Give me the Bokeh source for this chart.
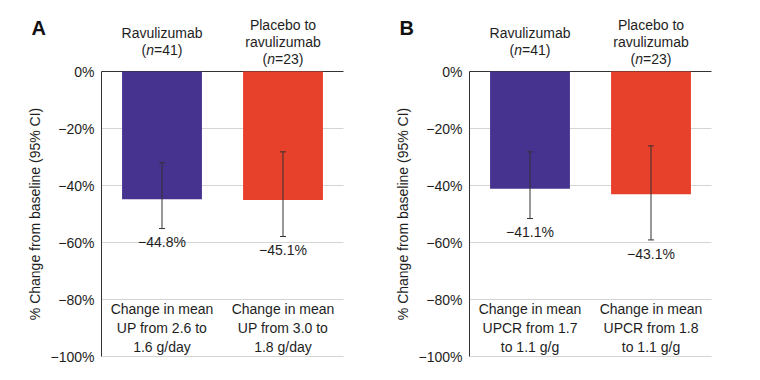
from bokeh.plotting import figure
from bokeh.models import (ColumnDataSource, Range1d, FixedTicker, Whisker, TeeHead,
                          LinearAxis, Grid)
from bokeh.layouts import row
from bokeh.embed import file_html
from bokeh.resources import INLINE
from bokeh.core.properties import value

# ---------------- data ----------------
groups = ["Ravulizumab", "Placebo to ravulizumab"]
group_title_lines = [["Ravulizumab"], ["Placebo to", "ravulizumab"]]
group_n = [41, 23]
bar_colors = ["#46338F", "#E8412B"]

# Panel A: urine protein (UP)
up_change = [-44.8, -45.1]
up_ci_low = [-55.1, -57.9]
up_ci_high = [-32.0, -28.2]
up_labels = ["Change in mean\nUP from 2.6 to\n1.6 g/day",
             "Change in mean\nUP from 3.0 to\n1.8 g/day"]

# Panel B: urine protein-creatinine ratio (UPCR)
upcr_change = [-41.1, -43.1]
upcr_ci_low = [-51.6, -59.1]
upcr_ci_high = [-28.2, -26.1]
upcr_labels = ["Change in mean\nUPCR from 1.7\nto 1.1 g/g",
               "Change in mean\nUPCR from 1.8\nto 1.1 g/g"]

y_ticks = [0, -20, -40, -60, -80, -100]
y_tick_labels = ["0%", "\u221220%", "\u221240%", "\u221260%", "\u221280%", "\u2212100%"]
y_axis_title = "% Change from baseline (95% CI)"

# ---------------- style / layout ----------------
FONT = "Liberation Sans"
TXT = "#1e1e1e"
FS = "14px"
PX_X = 121.0    # px per x unit (frame 242 px for 2 groups)
PX_Y = 2.85     # px per y unit (285 px for 100 %)
TOP_PX = 71     # px from canvas top to 0 %
BOT_PX = 14     # px below -100 %
HEIGHT = 370


def make_panel(letter, change, lo, hi, cat_labels, width, left_px):
    x0 = -left_px / PX_X
    x1 = (width - left_px) / PX_X
    y1 = TOP_PX / PX_Y
    y0 = -100 - BOT_PX / PX_Y
    p = figure(width=width, height=HEIGHT, output_backend="svg", toolbar_location=None,
               x_range=Range1d(x0, x1), y_range=Range1d(y0, y1),
               x_axis_location=None, y_axis_location=None,
               min_border=0, background_fill_color="white",
               border_fill_color="white")
    p.outline_line_color = None
    p.grid.visible = False

    n_groups = len(change)

    # grid lines
    g = Grid(dimension=1, ticker=FixedTicker(ticks=y_ticks[1:]),
             grid_line_color="#d4d4d4", grid_line_width=1)
    g.cross_bounds = (0, n_groups)
    p.add_layout(g)
    g0 = Grid(dimension=1, ticker=FixedTicker(ticks=[0]),
              grid_line_color="#333333", grid_line_width=1)
    g0.cross_bounds = (0, n_groups)
    p.add_layout(g0)

    ax = LinearAxis(fixed_location=0, bounds=(-100, 0))
    ax.ticker = FixedTicker(ticks=y_ticks)
    ax.major_label_overrides = {t: l for t, l in zip(y_ticks, y_tick_labels)}
    ax.major_tick_in = 0
    ax.major_tick_out = 0
    ax.minor_tick_in = 0
    ax.minor_tick_out = 0
    ax.axis_line_color = "#333333"
    ax.major_label_text_font = FONT
    ax.major_label_text_font_size = FS
    ax.major_label_text_color = TXT
    ax.major_label_standoff = 7
    ax.axis_label = y_axis_title
    ax.axis_label_text_font = FONT
    ax.axis_label_text_font_size = FS
    ax.axis_label_text_font_style = "normal"
    ax.axis_label_text_color = TXT
    ax.axis_label_standoff = 5
    p.add_layout(ax, "left")

    xs = [i + 0.5 for i in range(n_groups)]
    src = ColumnDataSource(dict(
        x=xs, top=[0] * n_groups, bottom=change, color=bar_colors,
        lo=lo, hi=hi,
        lab=["\u2212%.1f%%" % abs(v) for v in change],
        laby=[l - 4.8 for l in lo],
        cat=cat_labels, caty=[-90] * n_groups,
    ))
    p.vbar(x="x", top="top", bottom="bottom", width=0.66, fill_color="color",
           line_color=None, source=src)

    w = Whisker(base="x", lower="lo", upper="hi", source=src,
                line_color="#333333", line_width=1,
                upper_head=TeeHead(size=6, line_color="#333333", line_width=1),
                lower_head=TeeHead(size=6, line_color="#333333", line_width=1))
    w.level = "overlay"
    p.add_layout(w)

    p.text(x="x", y="laby", text="lab", source=src, text_font=value(FONT),
           text_font_size=FS, text_color=TXT, text_align="center",
           text_baseline="middle")
    p.text(x="x", y="caty", text="cat", source=src, text_font=value(FONT),
           text_font_size=FS, text_color=TXT, text_align="center",
           text_baseline="middle", text_line_height=1.2)

    # group titles above the bars
    line_gap = 17 / PX_Y
    ymid = 30 / PX_Y
    tx, ty, tt = [], [], []
    nx, ny, nxo, nt, ns = [], [], [], [], []
    w_open, w_n, w_rest = 4.66, 7.78, 28.41
    start = -(w_open + w_n + w_rest) / 2
    for i, (lines, n) in enumerate(zip(group_title_lines, group_n)):
        k = len(lines) + 1
        for j, txt in enumerate(lines):
            tx.append(xs[i]); ty.append(ymid + ((k - 1) / 2 - j) * line_gap); tt.append(txt)
        yy = ymid - (k - 1) / 2 * line_gap
        for txt, off, style in [("(", start, "normal"), ("n", start + w_open, "italic"),
                                ("=%d)" % n, start + w_open + w_n, "normal")]:
            nx.append(xs[i]); ny.append(yy); nxo.append(off); nt.append(txt); ns.append(style)
    p.text(x=tx, y=ty, text=tt, text_font=value(FONT), text_font_size=FS,
           text_color=TXT, text_align="center", text_baseline="middle")
    nsrc_n = ColumnDataSource(dict(x=[a for a, s in zip(nx, ns) if s == "normal"],
                                   y=[a for a, s in zip(ny, ns) if s == "normal"],
                                   xo=[a for a, s in zip(nxo, ns) if s == "normal"],
                                   t=[a for a, s in zip(nt, ns) if s == "normal"]))
    nsrc_i = ColumnDataSource(dict(x=[a for a, s in zip(nx, ns) if s == "italic"],
                                   y=[a for a, s in zip(ny, ns) if s == "italic"],
                                   xo=[a for a, s in zip(nxo, ns) if s == "italic"],
                                   t=[a for a, s in zip(nt, ns) if s == "italic"]))
    p.text(x="x", y="y", x_offset="xo", text="t", source=nsrc_n, text_font=value(FONT),
           text_font_size=FS, text_color=TXT, text_align="left", text_baseline="middle")
    p.text(x="x", y="y", x_offset="xo", text="t", source=nsrc_i, text_font=value(FONT),
           text_font_size=FS, text_font_style="italic", text_color=TXT,
           text_align="left", text_baseline="middle")

    # panel letter
    p.text(x=[-70 / PX_X], y=[44 / PX_Y], text=[letter], text_font=value(FONT),
           text_font_size="20px", text_font_style="bold", text_color="#111111",
           text_align="left", text_baseline="middle")
    return p


pA = make_panel("A", up_change, up_ci_low, up_ci_high, up_labels, 376, 101)
pB = make_panel("B", upcr_change, upcr_ci_low, upcr_ci_high, upcr_labels, 368, 93)

layout = row(pA, pB)
open("out.html", "w").write(file_html(layout, INLINE))
